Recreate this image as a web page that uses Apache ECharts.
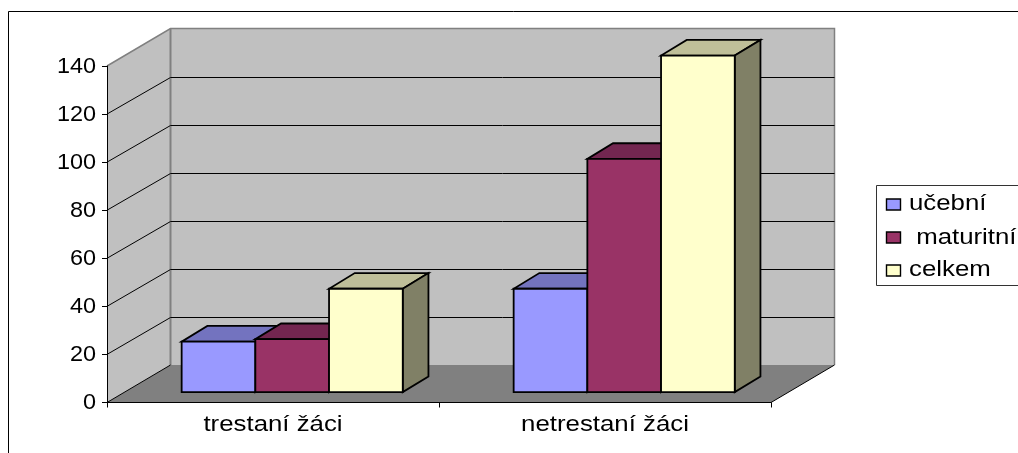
<!DOCTYPE html>
<html>
<head>
<meta charset="utf-8">
<style>html,body{margin:0;padding:0;background:#fff;overflow:hidden}#c{width:1018px;height:453px}</style>
<script src="https://cdn.jsdelivr.net/npm/echarts@6/dist/echarts.min.js"></script>
</head>
<body>
<div id="c"></div>
<script>
const categories = ['trestaní žáci', 'netrestaní žáci'];
const seriesNames = ['učební', ' maturitní', 'celkem'];
const ucebni = [21, 43];
const maturitni = [22, 97];
const celkem = [43, 140];
const tickValues = [0, 20, 40, 60, 80, 100, 120, 140];

const barValues = [ucebni, maturitni, celkem];
const frontColors = ['#9999FF', '#993366', '#FFFFCC'];
const topColors = ['#7373BF', '#732650', '#BFBF99'];
const sideColors = ['#4D4D80', '#4D1A33', '#808066'];

const FONT = '"Liberation Sans", Arial, sans-serif';
const FS = 21.5, STRETCH = 1.2, DIGIT_STRETCH = 1.09;
const WALL_DX = 63.5, WALL_DY = 37.5;   // projected depth of the floor
const BAR_DX = 25.7, BAR_DY = 15.7;     // projected depth of a bar
const BAR_X = 19.2, BAR_Y = 10.4;       // bar offset into the floor
const BAR_W = 73.7;

function poly(points, fill, stroke, lw) {
  return { type: 'polygon', shape: { points }, style: { fill, stroke: stroke || null, lineWidth: lw || 0, lineJoin: 'miter' } };
}
function line(points, stroke, lw) {
  return { type: 'polyline', shape: { points }, style: { fill: null, stroke, lineWidth: lw } };
}
function label(x, y, text, align, stretch) {
  return { type: 'text', x, y, scaleX: stretch, style: { text, fill: '#000', fontSize: FS, fontFamily: FONT, textAlign: align, textVerticalAlign: 'middle' } };
}

function renderWalls(params, api) {
  const r = params.coordSys;
  const L = r.x, R = r.x + r.width, T = r.y, B = r.y + r.height;
  const dx = WALL_DX, dy = WALL_DY;
  return { type: 'group', children: [
    poly([[L, B], [L, T], [L + dx, T - dy], [L + dx, B - dy]], '#C0C0C0'),
    poly([[L + dx, T - dy], [R + dx, T - dy], [R + dx, B - dy], [L + dx, B - dy]], '#C0C0C0'),
    poly([[L, B], [R, B], [R + dx, B - dy], [L + dx, B - dy]], '#808080'),
    line([[L, T], [L + dx, T - dy], [R + dx, T - dy], [R + dx, B - dy]], '#808080', 1.5),
    line([[L + dx, T - dy], [L + dx, B - dy]], '#808080', 2),
    line([[R, B], [R + dx, B - dy]], '#000', 1),
    line([[L, B], [L + dx, B - dy]], '#000', 1)
  ] };
}

function renderGrid(params, api) {
  const r = params.coordSys;
  const y = api.coord([0, api.value(1)])[1];
  const by = Math.round(y - WALL_DY) + 0.5;
  const L = r.x, R = r.x + r.width;
  return line([[L, y], [L + WALL_DX, by], [R + WALL_DX, by]], '#000', 1);
}

function renderBar(i) {
  return function (params, api) {
    const c = api.coord([api.value(0), 0]);
    const t = api.coord([api.value(0), api.value(1)]);
    const x0 = c[0] + BAR_X - 1.5 * BAR_W + i * BAR_W, x1 = x0 + BAR_W;
    const b = c[1] - BAR_Y, h = t[1] - BAR_Y;
    const lw = 1.8;
    return { type: 'group', children: [
      poly([[x0, h], [x1, h], [x1 + BAR_DX, h - BAR_DY], [x0 + BAR_DX, h - BAR_DY]], topColors[i], '#000', lw),
      poly([[x1, h], [x1 + BAR_DX, h - BAR_DY], [x1 + BAR_DX, b - BAR_DY], [x1, b]], sideColors[i], '#000', lw),
      poly([[x0, h], [x1, h], [x1, b], [x0, b]], frontColors[i], '#000', lw)
    ] };
  };
}

const series = [
  { type: 'custom', name: 'walls', z: 1, silent: true, data: [[0, 0]], encode: { x: 0, y: 1 }, renderItem: renderWalls },
  { type: 'custom', name: 'gridlines', z: 1, silent: true,
    data: tickValues.filter(v => v > 0 && v < 140).map(v => [0, v]), encode: { x: 0, y: 1 }, renderItem: renderGrid }
];
barValues.forEach((vals, i) => series.push({
  type: 'custom', name: seriesNames[i], z: 2, silent: true,
  data: vals.map((v, j) => [j, v]), encode: { x: 0, y: 1 }, renderItem: renderBar(i)
}));
series.push({
  type: 'custom', name: 'value labels', z: 4, silent: true, clip: false,
  data: tickValues.map(v => [0, v]), encode: { x: 0, y: 1 },
  renderItem(params, api) {
    const v = api.value(1);
    return label(params.coordSys.x - 11, api.coord([0, v])[1] + 1, String(v), 'right', DIGIT_STRETCH);
  }
});
series.push({
  type: 'custom', name: 'category labels', z: 4, silent: true, clip: false,
  data: categories.map((c, j) => [j, 0]), encode: { x: 0, y: 1 },
  renderItem(params, api) {
    const j = api.value(0), p = api.coord([j, 0]);
    return label(p[0], p[1] + 23, categories[j], 'center', STRETCH);
  }
});

const legendRowY = [204.5, 237.5, 270.5];
const legendTextY = [204.5, 238, 270];
const legendEls = [
  { type: 'rect', z: -1, shape: { x: 8.5, y: 11.5, width: 1100, height: 600 }, style: { fill: '#fff', stroke: '#000', lineWidth: 1 } },
  { type: 'rect', z: 1, shape: { x: 876.5, y: 185.5, width: 300, height: 100 }, style: { fill: '#fff', stroke: '#333', lineWidth: 1 } }
];
seriesNames.forEach((n, i) => {
  legendEls.push({ type: 'rect', z: 2, shape: { x: 886.5, y: legendRowY[i] - 5.5, width: 14, height: 11 }, style: { fill: frontColors[i], stroke: '#000', lineWidth: 1.4 } });
  legendEls.push({ type: 'text', z: 2, x: 909, y: legendTextY[i], scaleX: STRETCH, style: { text: n, fill: '#000', fontSize: FS, fontFamily: FONT, textAlign: 'left', textVerticalAlign: 'middle' } });
});

const chart = echarts.init(document.getElementById('c'), null, { renderer: 'canvas' });
chart.setOption({
  animation: false,
  backgroundColor: '#fff',
  grid: { left: 107, top: 66, width: 664, height: 336.5 },
  graphic: { elements: legendEls },
  xAxis: {
    type: 'category', data: categories, z: 3,
    axisLine: { lineStyle: { color: '#000', width: 1 } },
    axisTick: { show: true, length: 5, lineStyle: { color: '#000' } },
    axisLabel: { show: false }, splitLine: { show: false }
  },
  yAxis: {
    type: 'value', min: 0, max: 140, interval: 20, z: 3,
    axisLine: { show: true, lineStyle: { color: '#000', width: 1 } },
    axisTick: { show: true, length: 5, lineStyle: { color: '#000' } },
    axisLabel: { show: false }, splitLine: { show: false }
  },
  series
});
</script>
</body>
</html>
